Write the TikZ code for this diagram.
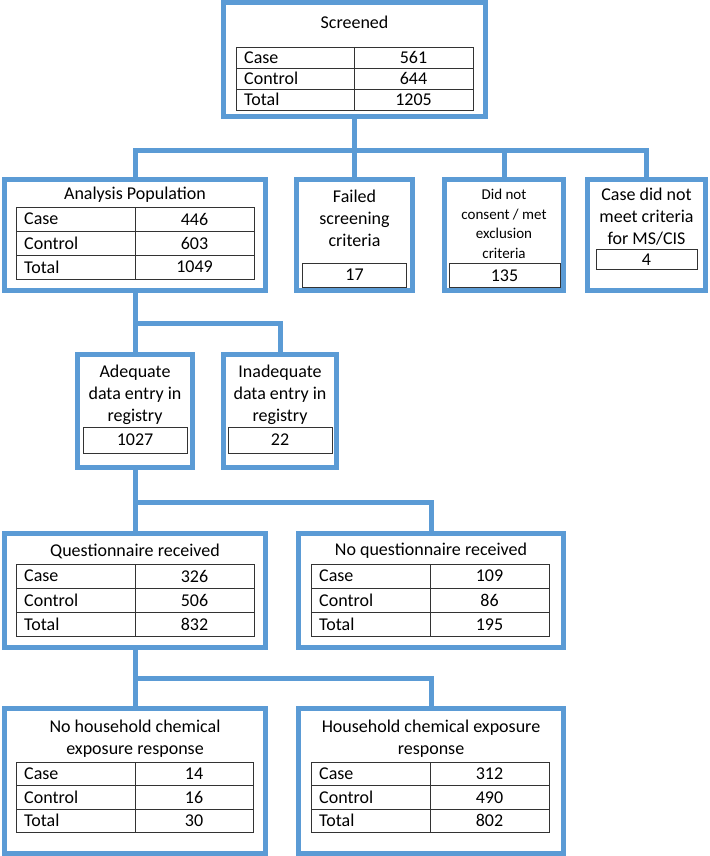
\documentclass[tikz,border=0pt]{standalone}
\usepackage{fontspec}
\setmainfont{Carlito}
\usepackage{tikz}
\usetikzlibrary{positioning}
\definecolor{boxblue}{RGB}{91,155,213}

\tikzset{
	box/.style={draw=boxblue, line width=5pt, inner sep=0pt, outer sep=0pt},
	link/.style={draw=boxblue, line width=5pt},
	cell/.style={draw=black!80, line width=0.9pt},
	numbox/.style={cell, inner sep=0pt, font=\fontsize{18}{22}\selectfont},
	txt/.style={font=\fontsize{18}{22}\selectfont, inner sep=0pt, align=center},
	small/.style={font=\fontsize{15}{19.5}\selectfont, inner sep=0pt, align=center}
}

\newcommand{\counttab}[9]{%
	\draw[cell] (#2,#3) rectangle (#5,#3+3*#6);
	\draw[cell] (#4,#3) -- (#4,#3+3*#6);
	\draw[cell] (#2,#3+#6) -- (#5,#3+#6);
	\draw[cell] (#2,#3+2*#6) -- (#5,#3+2*#6);
	\node[txt,anchor=west] (#1-case) at (#2+8,#3+0.5*#6) {Case};
	\node[txt,anchor=west] (#1-ctrl) at (#2+8,#3+1.5*#6) {Control};
	\node[txt,anchor=west] (#1-tot) at (#2+8,#3+2.5*#6) {Total};
	\node[txt] (#1-n1) at ({(#4+#5)/2},#3+0.5*#6) {#7};
	\node[txt] (#1-n2) at ({(#4+#5)/2},#3+1.5*#6) {#8};
	\node[txt] (#1-n3) at ({(#4+#5)/2},#3+2.5*#6) {#9};
}

\begin{document}
\begin{tikzpicture}[x=1pt,y=-1pt]
	\useasboundingbox (0,0) rectangle (709,856);

	\node[box, minimum width=262, minimum height=114] (scr) at (354.5,59.5) {};
	\node[txt] (scr-t) at (354.5,22) {Screened};
	\counttab{scr}{236}{47}{354}{473}{21}{561}{644}{1205}

	\node[box, minimum width=261, minimum height=111] (ana) at (135,235) {};
	\node[txt] (ana-t) at (135,195) {Analysis Population};
	\counttab{ana}{16}{207}{135}{254}{24}{446}{603}{1049}

	\node[box, minimum width=116, minimum height=111] (fail) at (354.5,235) {};
	\node[txt] (fail-t) at (354.5,218) {Failed\\screening\\criteria};
	\node[numbox, minimum width=104, minimum height=24] (fail-n) at (354.5,275) {17};

	\node[box, minimum width=119, minimum height=111] (cons) at (504,235) {};
	\node[small] (cons-t) at (504,224) {Did not\\consent / met\\exclusion\\criteria};
	\node[numbox, minimum width=111, minimum height=24] (cons-n) at (504.5,275.5) {135};

	\node[box, minimum width=118, minimum height=111] (crit) at (646.5,235) {};
	\node[txt] (crit-t) at (646.5,216.5) {Case did not\\meet criteria\\for MS/CIS};
	\node[numbox, minimum width=101, minimum height=20] (crit-n) at (646.5,259.5) {4};

	\node[box, minimum width=115, minimum height=113] (adeq) at (135,411) {};
	\node[txt] (adeq-t) at (135,395) {Adequate\\data entry in\\registry};
	\node[numbox, minimum width=104, minimum height=26] (adeq-n) at (135,440) {1027};

	\node[box, minimum width=113, minimum height=113] (inad) at (280,411) {};
	\node[txt] (inad-t) at (280,395) {Inadequate\\data entry in\\registry};
	\node[numbox, minimum width=104, minimum height=26] (inad-n) at (280,440) {22};

	\node[box, minimum width=261, minimum height=114] (qrec) at (135,590.5) {};
	\node[txt] (qrec-t) at (135,551) {Questionnaire received};
	\counttab{qrec}{16}{564}{135}{254}{24.3}{326}{506}{832}

	\node[box, minimum width=261, minimum height=145] (hno) at (135,780.5) {};
	\node[txt] (hno-t) at (135,738.5) {No household chemical\\exposure response};
	\counttab{hno}{16}{762}{135}{253}{23.5}{14}{16}{30}

	\node[box, minimum width=265, minimum height=114] (qno) at (431,590.5) {};
	\node[txt] (qno-t) at (431,551) {No questionnaire received};
	\counttab{qno}{311}{564}{430}{549}{24.3}{109}{86}{195}

	\node[box, minimum width=265, minimum height=145] (hyes) at (431,780.5) {};
	\node[txt] (hyes-t) at (431,738.5) {Household chemical exposure\\response};
	\counttab{hyes}{311}{762}{430}{549}{23.5}{312}{490}{802}

	\coordinate (bus1) at (354.5,150);
	\coordinate (bus2) at (135,323);
	\coordinate (bus3) at (135,502);
	\coordinate (bus4) at (135,678);

	\draw[link] (scr.south) -- (bus1);
	\draw[link] (ana.north) |- (bus1) -| (crit.north);
	\draw[link] (fail.north) -- (bus1);
	\draw[link] (cons.north) -- (cons.north |- bus1);
	\draw[link] (ana.south) -- (adeq.north);
	\draw[link] (bus2) -| (inad.north);
	\draw[link] (adeq.south) -- (qrec.north);
	\draw[link] (bus3) -| (qno.north);
	\draw[link] (qrec.south) -- (hno.north);
	\draw[link] (bus4) -| (hyes.north);
\end{tikzpicture}
\end{document}
